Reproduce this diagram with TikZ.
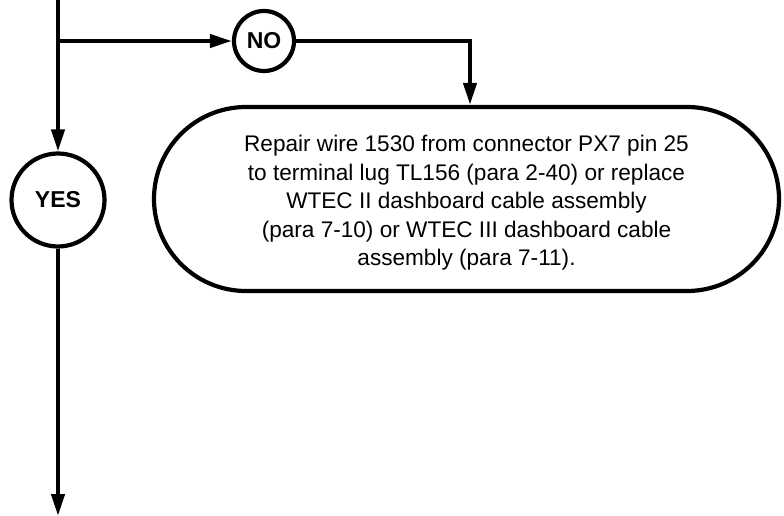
\documentclass[tikz,border=0pt]{standalone}
\usepackage{fontspec}
\setmainfont{Liberation Sans}
\usetikzlibrary{arrows.meta,shapes.misc}
\begin{document}
\begin{tikzpicture}[x=1pt,y=-1pt,
  line width=4.2pt,
  arr/.style={-{Triangle[length=22pt,width=13pt]}},
  decision/.style={draw,circle,inner sep=0pt,font=\fontsize{23}{24}\selectfont\bfseries},
  actionbox/.style={draw,rounded rectangle,inner sep=0pt,minimum width=625pt,minimum height=184pt},
  boxtext/.style={align=center,inner sep=0pt,font=\fontsize{22.6}{28.5}\selectfont}
]
\useasboundingbox (0,0) rectangle (784,516);
\coordinate (top) at (58,0);
\coordinate (j) at (58,41);
\coordinate (bot) at (58,516);
\node[decision,minimum size=93pt] (yes) at (58,200) {YES};
\node[decision,minimum size=60pt] (no) at (264,41) {NO};
\node[actionbox] (box) at (466.5,199) {};
\node[boxtext] (label) at ([yshift=-4pt]box.center) {Repair wire 1530 from connector PX7 pin 25\\
to terminal lug TL156 (para 2-40) or replace\\
WTEC II dashboard cable assembly\\
(para 7-10) or WTEC III dashboard cable\\
assembly (para 7-11).};
\draw[arr] (top) -- (yes);
\draw[arr] (j) -- (no);
\draw[arr] (no) -| ([xshift=3.5pt]box.north);
\draw[arr] (yes) -- (bot);
\end{tikzpicture}
\end{document}
